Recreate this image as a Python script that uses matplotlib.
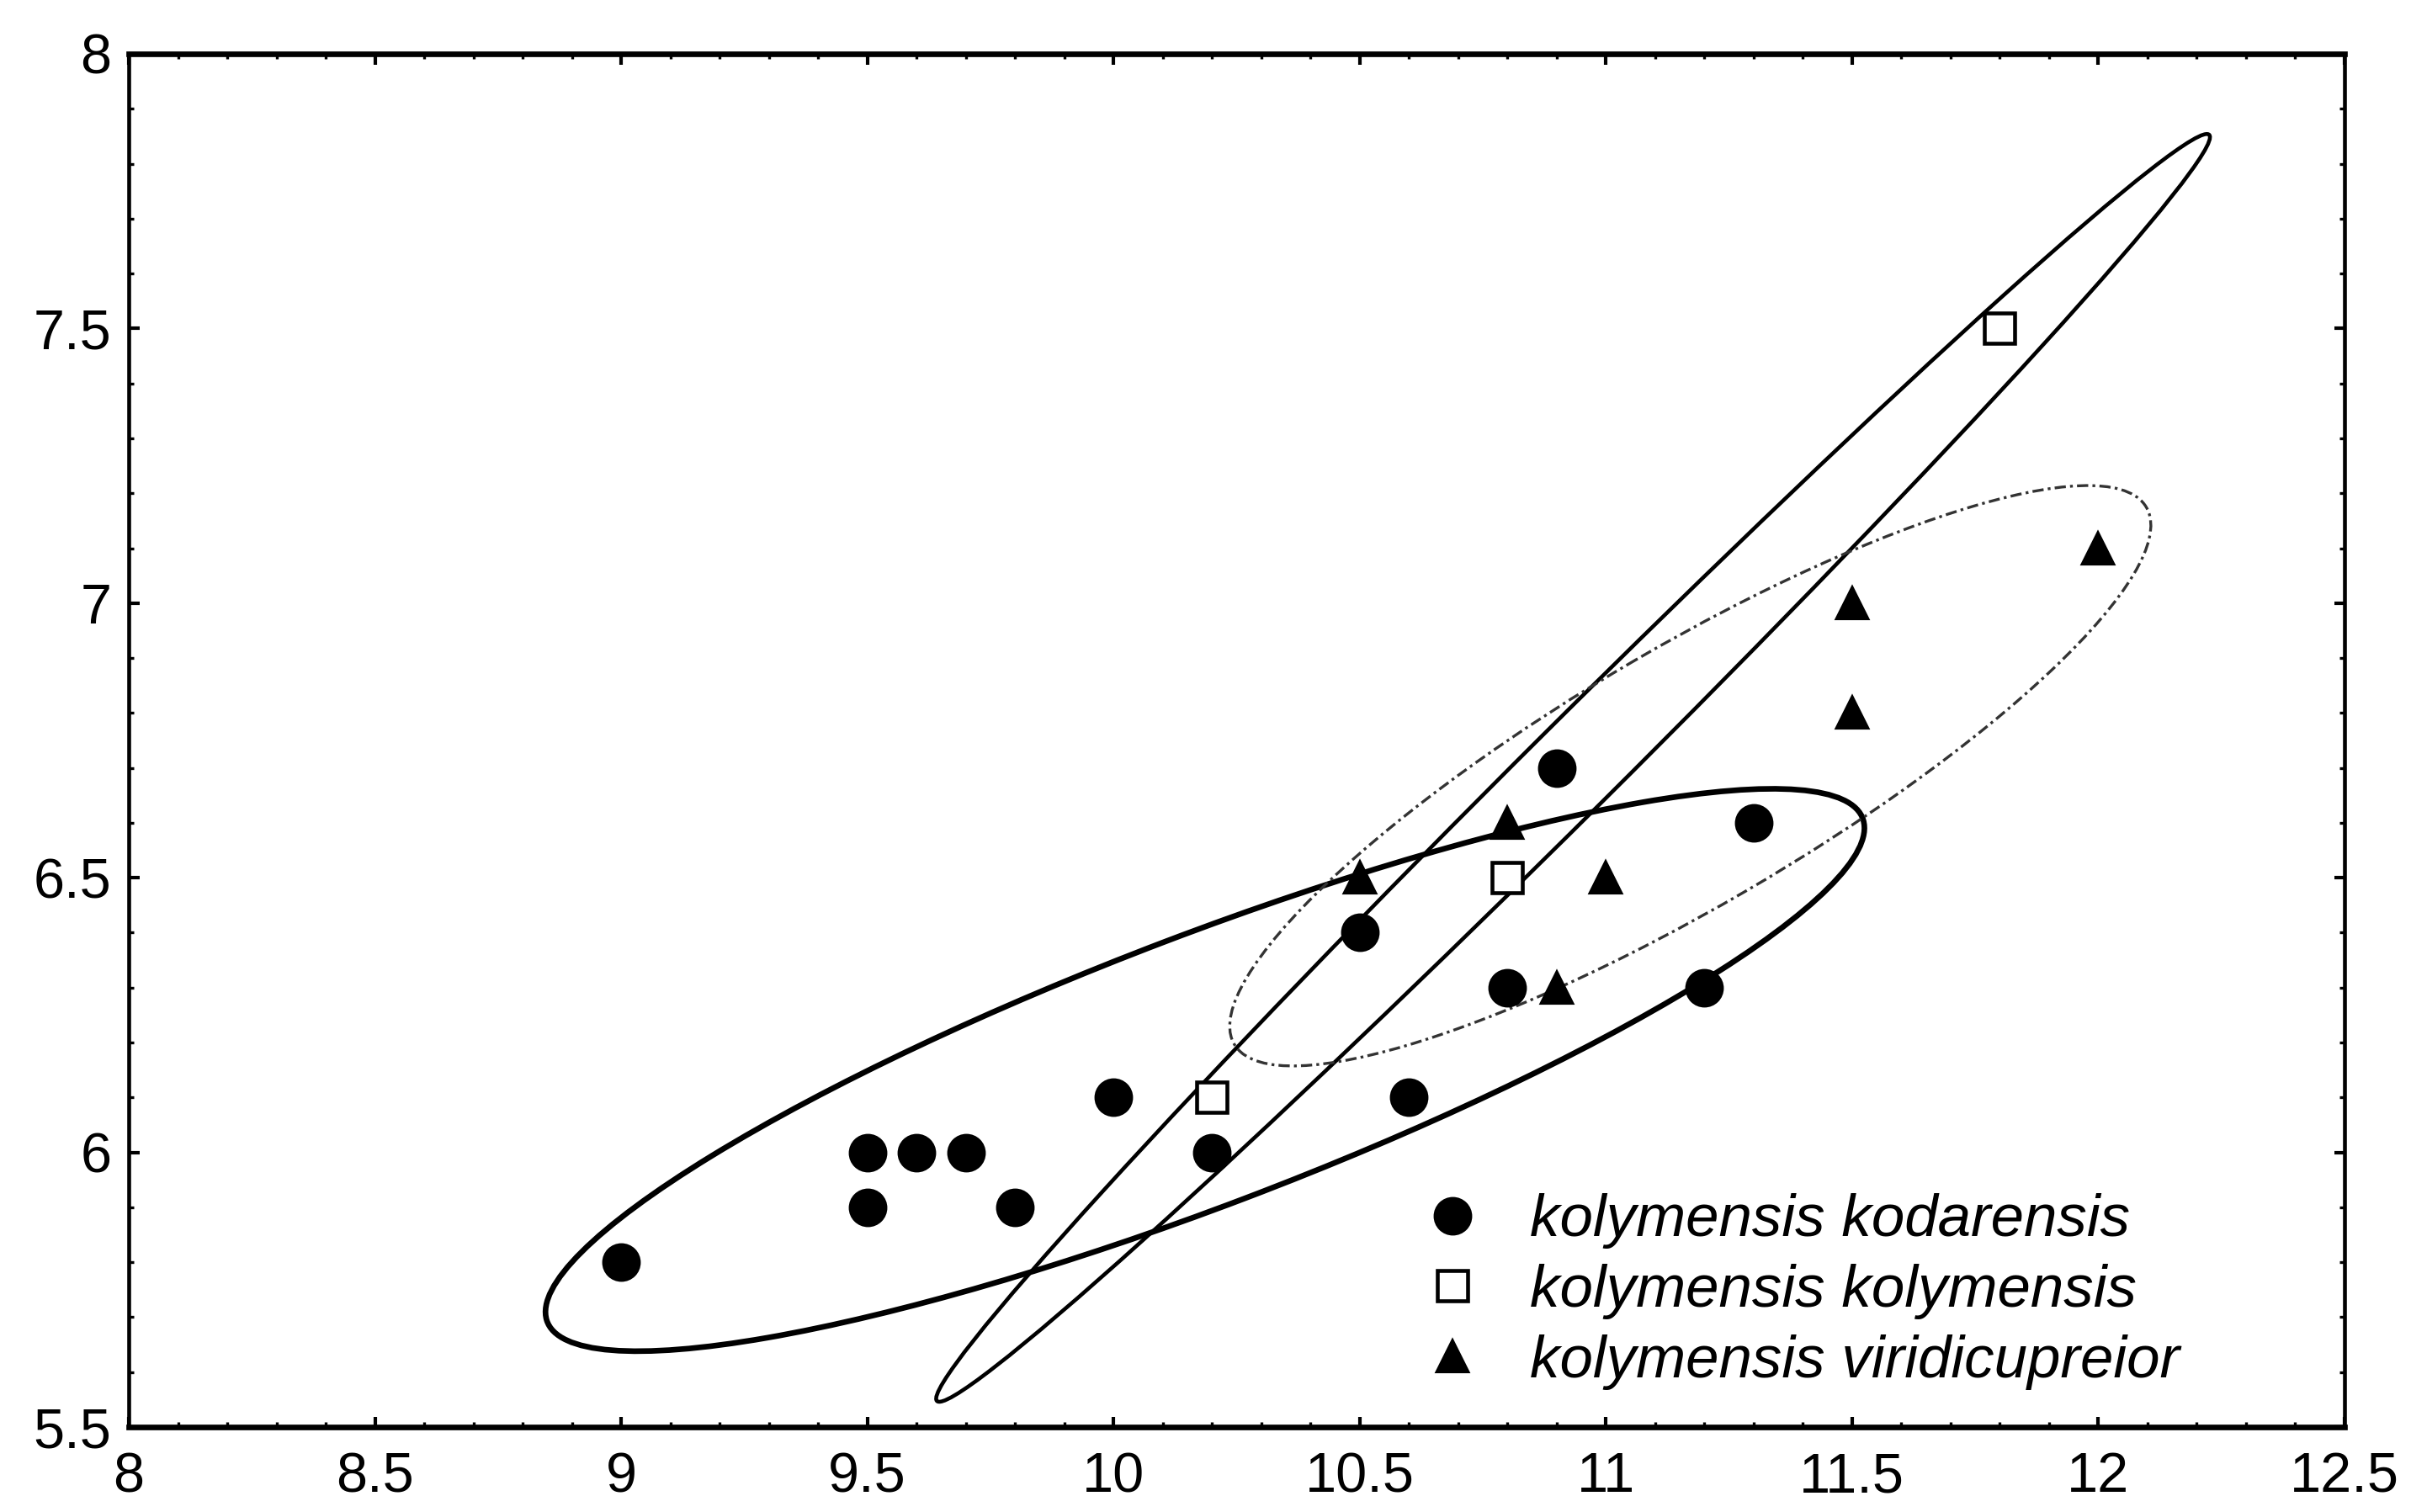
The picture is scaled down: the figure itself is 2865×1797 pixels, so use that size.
import numpy as np
import matplotlib
matplotlib.use("Agg")
import matplotlib.pyplot as plt
from matplotlib.patches import Ellipse
from matplotlib.ticker import MultipleLocator

# ---- data ----
kod_x = [9.0, 9.5, 9.6, 9.7, 9.5, 9.8, 10.0, 10.2, 10.5, 10.6, 10.8, 10.9, 11.2, 11.3]
kod_y = [5.8, 6.0, 6.0, 6.0, 5.9, 5.9, 6.1, 6.0, 6.4, 6.1, 6.3, 6.7, 6.3, 6.6]
kol_x = [10.2, 10.8, 11.8]
kol_y = [6.1, 6.5, 7.5]
vir_x = [10.5, 10.8, 10.9, 11.0, 11.5, 11.5, 12.0]
vir_y = [6.5, 6.6, 6.3, 6.5, 7.0, 6.8, 7.1]
labels = ["kolymensis kodarensis", "kolymensis kolymensis", "kolymensis viridicupreior"]
xticks = [8, 8.5, 9, 9.5, 10, 10.5, 11, 11.5, 12, 12.5]
yticks = [5.5, 6, 6.5, 7, 7.5, 8]
ellipse_k = 1.96  # normal 95% coverage, ML covariance

plt.rcParams["font.family"] = ["Liberation Sans", "DejaVu Sans"]

fig = plt.figure(figsize=(9.55, 5.99), dpi=300)
ax = fig.add_axes([0.0534, 0.0562, 0.919, 0.9082])


def conf_ellipse(ax, x, y, k, **kw):
    x = np.asarray(x); y = np.asarray(y)
    cov = np.cov(x, y, ddof=0)
    vals, vecs = np.linalg.eigh(cov)
    i = np.argmax(vals)
    angle = np.degrees(np.arctan2(vecs[1, i], vecs[0, i]))
    w = 2 * k * np.sqrt(vals[i])
    h = 2 * k * np.sqrt(vals[1 - i])
    e = Ellipse((x.mean(), y.mean()), w, h, angle=angle, fill=False, **kw)
    ax.add_patch(e)


conf_ellipse(ax, kod_x, kod_y, ellipse_k, lw=1.6, color="black", zorder=2)
conf_ellipse(ax, kol_x, kol_y, ellipse_k, lw=1.1, color="black", zorder=2)
conf_ellipse(ax, vir_x, vir_y, ellipse_k, lw=0.8, color="#333333",
             linestyle=(0, (4, 1.5, 1, 1.5)), zorder=2)

ax.plot(kod_x, kod_y, "o", ms=10, color="black", mec="black", ls="none",
        label=labels[0], zorder=3)
ax.plot(kol_x, kol_y, "s", ms=8.5, mfc="white", mec="black", mew=1.1, ls="none",
        label=labels[1], zorder=3)
ax.plot(vir_x, vir_y, "^", ms=8.5, color="black", ls="none",
        label=labels[2], zorder=3)

ax.set_xlim(8, 12.5)
ax.set_ylim(5.5, 8)
ax.set_xticks(xticks)
ax.set_yticks(yticks)
ax.set_xticklabels([f"{t:g}" for t in xticks])
ax.set_yticklabels([f"{t:g}" for t in yticks])
ax.xaxis.set_minor_locator(MultipleLocator(0.1))
ax.yaxis.set_minor_locator(MultipleLocator(0.1))
ax.tick_params(which="major", direction="in", length=3, width=1.0,
               top=True, right=True, labelsize=16, colors="black")
ax.tick_params(axis="x", which="major", pad=7)
ax.tick_params(axis="y", which="major", pad=5)
ax.tick_params(which="minor", direction="in", length=1.5, width=0.8,
               top=True, right=True)
for s in ["top", "bottom"]:
    ax.spines[s].set_linewidth(1.6)
for s in ["left", "right"]:
    ax.spines[s].set_linewidth(1.1)

leg = ax.legend(loc="lower right", bbox_to_anchor=(0.95, -0.012), frameon=False,
                prop={"style": "italic", "size": 17}, handletextpad=0.8,
                labelspacing=0.25, handlelength=1.0)

fig.savefig("out.png", dpi=300)
